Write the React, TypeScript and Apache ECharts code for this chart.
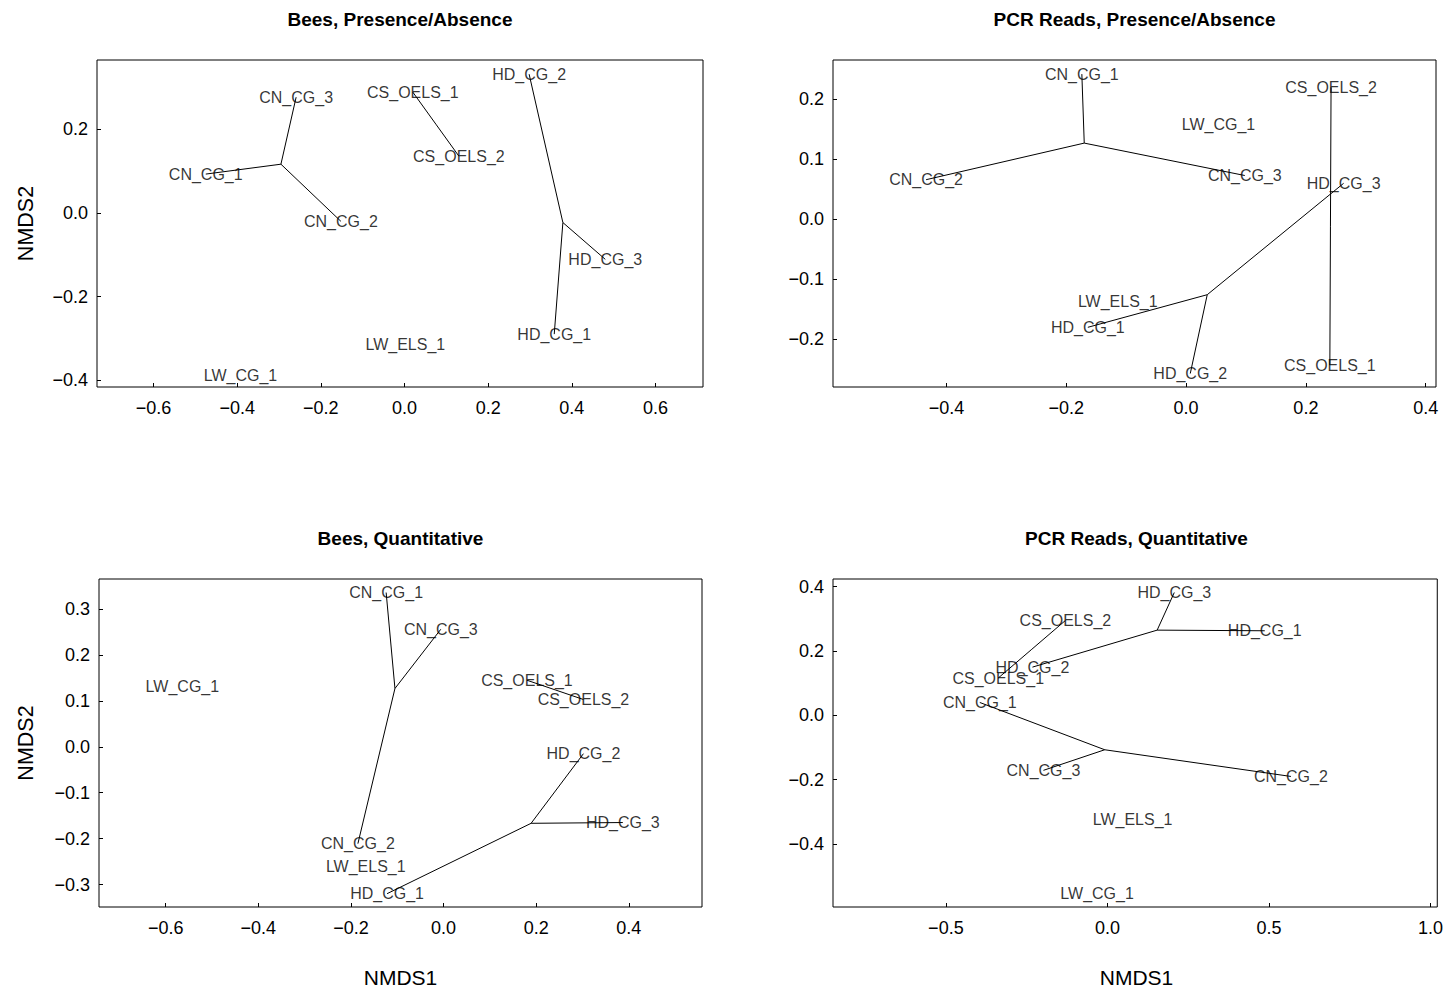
import React, { useEffect, useRef } from "react";
import * as echarts from "echarts";

// Site names (same order in every panel)
const siteNames = [
  "CN_CG_1", "CN_CG_2", "CN_CG_3", "CS_OELS_1", "CS_OELS_2",
  "HD_CG_1", "HD_CG_2", "HD_CG_3", "LW_CG_1", "LW_ELS_1",
];

// Bees, Presence/Absence NMDS scores
const beesPA_x = [-0.475, -0.152, -0.259, 0.02, 0.13, 0.358, 0.298, 0.48, -0.392, 0.002];
const beesPA_y = [0.093, -0.02, 0.277, 0.289, 0.136, -0.29, 0.332, -0.111, -0.39, -0.314];

// PCR Reads, Presence/Absence NMDS scores
const pcrPA_x = [-0.174, -0.434, 0.098, 0.24, 0.242, -0.164, 0.007, 0.263, 0.054, -0.114];
const pcrPA_y = [0.242, 0.066, 0.073, -0.243, 0.22, -0.18, -0.257, 0.06, 0.158, -0.137];

// Bees, Quantitative NMDS scores
const beesQ_x = [-0.124, -0.185, -0.006, 0.18, 0.302, -0.122, 0.302, 0.387, -0.564, -0.168];
const beesQ_y = [0.336, -0.211, 0.256, 0.145, 0.103, -0.32, -0.015, -0.165, 0.131, -0.26];

// PCR Reads, Quantitative NMDS scores
const pcrQ_x = [-0.395, 0.568, -0.198, -0.338, -0.13, 0.487, -0.232, 0.207, -0.032, 0.078];
const pcrQ_y = [0.04, -0.19, -0.171, 0.116, 0.295, 0.263, 0.15, 0.382, -0.554, -0.324];

// Tick values
const beesPA_xTicks = [-0.6, -0.4, -0.2, 0, 0.2, 0.4, 0.6];
const beesPA_yTicks = [-0.4, -0.2, 0, 0.2];
const pcrPA_xTicks = [-0.4, -0.2, 0, 0.2, 0.4];
const pcrPA_yTicks = [-0.2, -0.1, 0, 0.1, 0.2];
const beesQ_xTicks = [-0.6, -0.4, -0.2, 0, 0.2, 0.4];
const beesQ_yTicks = [-0.3, -0.2, -0.1, 0, 0.1, 0.2, 0.3];
const pcrQ_xTicks = [-0.5, 0, 0.5, 1.0];
const pcrQ_yTicks = [-0.4, -0.2, 0, 0.2, 0.4];

const titles = [
  "Bees, Presence/Absence",
  "PCR Reads, Presence/Absence",
  "Bees, Quantitative",
  "PCR Reads, Quantitative",
];

const FONT = '"Liberation Sans", Arial, Helvetica, sans-serif';

const fmt = (v: number) => v.toFixed(1).replace("-", "\u2212");

const groupOf = (n: string) => n.replace(/_\d+$/, "");

export default function App() {
  const ref = useRef<HTMLDivElement>(null);

  useEffect(() => {
    if (!ref.current) return;
    const chart = echarts.init(ref.current, undefined, { renderer: "svg" });

    const panels = [
      { xs: beesPA_x, ys: beesPA_y, grid: { left: 97, top: 60, width: 606, height: 327 }, xr: [-0.735, 0.7136], yr: [-0.4165, 0.366], xt: beesPA_xTicks, yt: beesPA_yTicks },
      { xs: pcrPA_x, ys: pcrPA_y, grid: { left: 833, top: 60, width: 603, height: 327 }, xr: [-0.5894, 0.4172], yr: [-0.2795, 0.2655], xt: pcrPA_xTicks, yt: pcrPA_yTicks },
      { xs: beesQ_x, ys: beesQ_y, grid: { left: 99, top: 579, width: 603, height: 328 }, xr: [-0.744, 0.558], yr: [-0.349, 0.3655], xt: beesQ_xTicks, yt: beesQ_yTicks },
      { xs: pcrQ_x, ys: pcrQ_y, grid: { left: 833, top: 579, width: 607, height: 328 }, xr: [-0.8494, 1.021], yr: [-0.596, 0.424], xt: pcrQ_xTicks, yt: pcrQ_yTicks },
    ];

    const grids: any[] = [];
    const xAxes: any[] = [];
    const yAxes: any[] = [];
    const series: any[] = [];

    panels.forEach((p, i) => {
      grids.push({ ...p.grid, show: true, borderColor: "#000", borderWidth: 1, backgroundColor: "transparent", containLabel: false });
      const axisCommon = (ticks: number[]) => ({
        type: "value",
        gridIndex: i,
        axisLine: { show: false, onZero: false },
        splitLine: { show: false },
        axisTick: { show: true, inside: true, length: 4, customValues: ticks, lineStyle: { color: "#000", width: 1 } },
        axisLabel: { show: true, customValues: ticks, formatter: (v: number) => fmt(v), color: "#000", fontSize: 18, fontFamily: FONT },
      });
      const xa: any = axisCommon(p.xt);
      xa.position = "bottom";
      xa.min = p.xr[0];
      xa.max = p.xr[1];
      xa.axisLabel.margin = 12;
      xAxes.push(xa);
      const ya: any = axisCommon(p.yt);
      ya.position = "left";
      ya.min = p.yr[0];
      ya.max = p.yr[1];
      ya.axisLabel.margin = 9;
      yAxes.push(ya);

      // spider lines from group centroid to each member
      const groups: Record<string, number[]> = {};
      siteNames.forEach((n, k) => {
        const g = groupOf(n);
        (groups[g] = groups[g] || []).push(k);
      });
      const segs: any[] = [];
      Object.keys(groups).forEach((g) => {
        const idx = groups[g];
        if (idx.length < 2) return;
        const cx = idx.reduce((s, k) => s + p.xs[k], 0) / idx.length;
        const cy = idx.reduce((s, k) => s + p.ys[k], 0) / idx.length;
        idx.forEach((k) => segs.push({ coords: [[cx, cy], [p.xs[k], p.ys[k]]] }));
      });
      series.push({
        type: "lines",
        coordinateSystem: "cartesian2d",
        xAxisIndex: i,
        yAxisIndex: i,
        silent: true,
        z: 2,
        lineStyle: { color: "#000", width: 1, opacity: 1 },
        data: segs,
      });
      series.push({
        type: "scatter",
        xAxisIndex: i,
        yAxisIndex: i,
        silent: true,
        z: 3,
        symbolSize: 1,
        itemStyle: { color: "rgba(0,0,0,0)" },
        label: { show: true, position: "inside", formatter: "{b}", color: "#000", fontSize: 16, fontFamily: FONT },
        data: siteNames.map((n, k) => ({ name: n, value: [p.xs[k], p.ys[k]] })),
      });
    });

    const titlePos = [
      [400, 19],
      [1134.5, 19],
      [400.5, 538],
      [1136.5, 538],
    ];
    const graphic: any[] = titles.map((t, i) => ({
      type: "text",
      x: titlePos[i][0],
      y: titlePos[i][1],
      style: { text: t, font: `bold 19px ${FONT}`, fill: "#000", textAlign: "center", textVerticalAlign: "middle" },
    }));
    [223.5, 743].forEach((cy) =>
      graphic.push({
        type: "text",
        x: 26,
        y: cy,
        rotation: Math.PI / 2,
        style: { text: "NMDS2", font: `21.5px ${FONT}`, fill: "#000", textAlign: "center", textVerticalAlign: "middle" },
      })
    );
    [400.5, 1136.5].forEach((cx) =>
      graphic.push({
        type: "text",
        x: cx,
        y: 977,
        style: { text: "NMDS1", font: `21px ${FONT}`, fill: "#000", textAlign: "center", textVerticalAlign: "middle" },
      })
    );

    chart.setOption({
      animation: false,
      backgroundColor: "#fff",
      grid: grids,
      xAxis: xAxes,
      yAxis: yAxes,
      series,
      graphic,
    });

    return () => chart.dispose();
  }, []);

  return (
    <div
      ref={ref}
      style={{ position: "absolute", left: 0, top: 0, width: 1446, height: 989 }}
    />
  );
}
